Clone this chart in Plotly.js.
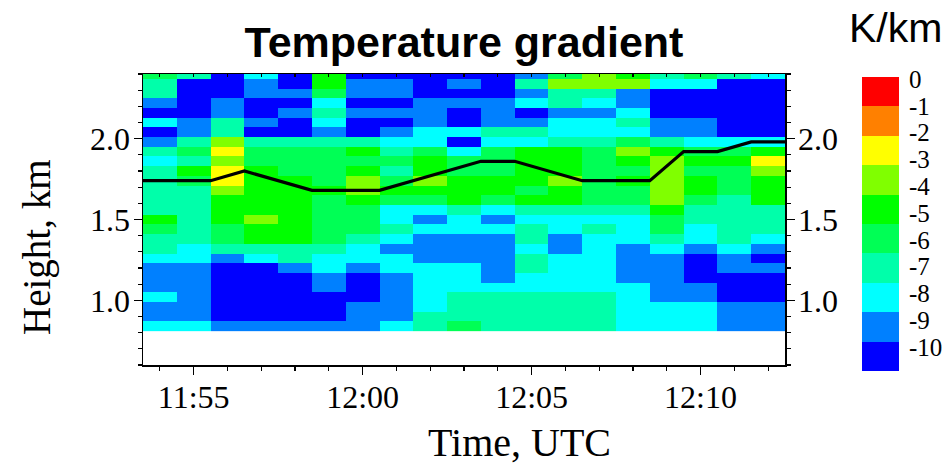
<!DOCTYPE html>
<html><head><meta charset="utf-8">
<script src="https://cdn.plot.ly/plotly-3.0.1.min.js"></script>
<style>html,body{margin:0;padding:0;background:#fff}#c{width:948px;height:467px}</style>
</head><body><div id="c"></div>
<script>
// time in minutes after 11:00 UTC
const minutes = [54,55,56,57,58,59,60,61,62,63,64,65,66,67,68,69,70,71,72];
const heights = [0.84,0.90,0.96,1.02,1.08,1.14,1.20,1.26,1.32,1.38,1.44,1.50,1.56,1.62,1.68,1.74,1.80,1.86,1.92,1.98,2.04,2.10,2.16,2.22,2.28,2.34,2.40];
// gradient bins, K/km (bin mid values)
const B=-9.5,A=-8.5,C=-7.5,M=-6.5,S=-5.5,G=-4.5,L=-3.5,Y=-2.5;
const row00=[C,C,A,A,A,A,A,C,M,S,M,M,M,M,C,C,C,A,A];
const row01=[A,A,B,B,B,B,A,A,M,M,M,M,M,M,C,C,C,A,A];
const row02=[A,A,B,B,B,B,A,A,C,M,M,M,M,M,C,C,C,A,A];
const row03=[C,A,B,B,B,B,B,A,C,M,M,M,M,M,C,A,A,B,B];
const row04=[A,A,B,B,B,A,B,A,C,C,C,C,C,C,C,A,A,B,B];
const row05=[A,A,B,B,B,A,B,A,C,C,A,C,C,C,A,A,B,B,B];
const row06=[A,A,B,B,A,C,A,C,C,C,A,M,C,C,A,A,B,A,A];
const row07=[C,C,A,C,M,C,C,C,A,A,A,M,C,C,A,A,B,A,B];
const row08=[M,C,M,M,M,M,C,A,A,A,A,C,A,C,A,C,A,C,A];
const row09=[M,M,S,G,G,S,M,C,A,A,A,M,A,C,C,M,C,M,C];
const row10=[S,M,S,G,G,S,S,M,C,C,C,M,C,M,C,S,C,M,M];
const row11=[G,M,G,L,G,S,S,C,A,C,A,C,C,C,C,S,M,M,M];
const row12=[M,M,G,G,G,S,S,C,C,M,C,M,M,M,M,G,M,M,M];
const row13=[M,M,G,G,G,S,G,S,S,G,S,G,G,S,S,L,S,M,G];
const row14=[M,M,L,G,G,G,L,G,G,G,G,S,G,S,S,L,G,S,G];
const row15=[M,S,Y,G,G,S,L,S,L,G,G,G,L,S,G,L,G,S,G];
const row16=[M,G,Y,G,S,S,G,M,G,S,S,G,G,S,S,L,S,S,L];
const row17=[C,M,L,S,S,S,S,S,G,S,S,G,G,S,G,L,G,G,Y];
const row18=[M,S,Y,S,S,S,G,M,S,C,S,G,G,S,L,G,S,S,G];
const row19=[A,M,L,M,M,M,M,C,C,B,C,C,M,M,S,M,C,C,C];
const row20=[B,A,M,B,B,A,B,A,C,C,M,M,C,C,C,A,A,B,B];
const row21=[C,A,M,A,B,C,B,B,A,B,A,A,C,C,M,A,A,B,B];
const row22=[B,B,A,B,A,M,A,A,A,B,A,B,A,A,C,B,B,B,B];
const row23=[A,B,A,B,B,C,B,B,A,A,A,C,M,C,A,B,B,B,B];
const row24=[M,B,B,A,A,S,A,A,B,B,B,A,M,M,A,B,B,B,B];
const row25=[M,B,B,A,B,G,A,A,B,A,B,M,L,L,L,C,C,B,B];
const row26=[S,M,B,C,B,G,B,B,B,B,B,A,S,L,G,M,S,M,C];
const gradient=[row00,row01,row02,row03,row04,row05,row06,row07,row08,row09,row10,row11,row12,row13,row14,row15,row16,row17,row18,row19,row20,row21,row22,row23,row24,row25,row26];
// black line
const lineTime=[53.5,55.5,56.5,58.5,60.5,63.5,64.5,66.5,68.5,69.5,70.5,71.5,72.5];
const lineHeight=[1.74,1.74,1.80,1.68,1.68,1.86,1.86,1.74,1.74,1.92,1.92,1.98,1.98];
// ticks
const xTickVals=[55,60,65,70];
const xTickText=['11:55','12:00','12:05','12:10'];
const yTickVals=[1.0,1.5,2.0];
const yTickText=['1.0','1.5','2.0'];
// colour bar
const binValues=[-0.5,-1.5,-2.5,-3.5,-4.5,-5.5,-6.5,-7.5,-8.5,-9.5];
const binColors=['#ff0000','#ff8000','#ffff00','#80ff00','#00ff00','#00ff55','#00ffaa','#00ffff','#0080ff','#0000ff'];
const cbLabels=['0','-1','-2','-3','-4','-5','-6','-7','-8','-9','-10'];
const cbLabelPos=[-0.07,-0.98,-1.89,-2.81,-3.72,-4.63,-5.54,-6.45,-7.37,-8.28,-9.19];

const scale=[];
binColors.slice().reverse().forEach((c,i)=>{scale.push([i/10,c]);scale.push([(i+1)/10,c]);});

const serif='"Liberation Serif",serif', sans='"Liberation Sans",sans-serif';
const L0=143,R0=899,T0=74,B0=371;
const W=R0-L0,H=B0-T0;
const mainX=[0,(785-L0)/W], mainY=[(B0-365)/H,1];
const tickFont={family:serif,size:32,color:'#000'};

const traces=[
 {type:'heatmap',x:minutes,y:heights,z:gradient,zmin:-10,zmax:0,colorscale:scale,showscale:false,xaxis:'x',yaxis:'y',hoverinfo:'skip'},
 {type:'scatter',mode:'lines',x:lineTime,y:lineHeight,line:{color:'#000',width:3.2},xaxis:'x2',yaxis:'y2',showlegend:false},
 {type:'heatmap',x:[0],y:binValues,z:binValues.map(v=>[v]),zmin:-10,zmax:0,colorscale:scale,showscale:false,xaxis:'x3',yaxis:'y3',hoverinfo:'skip'}
];
const layout={
 width:948,height:467,margin:{l:L0,r:948-R0,t:T0,b:467-B0,pad:0},
 paper_bgcolor:'#fff',plot_bgcolor:'#fff',showlegend:false,
 title:{text:'Temperature gradient',font:{family:sans,size:43,color:'#000',weight:'bold'},x:464/948,xanchor:'center',y:1-42/467,yanchor:'middle'},
 xaxis:{domain:mainX,range:[53.5,72.5],anchor:'y',side:'bottom',tickmode:'array',tickvals:xTickVals,ticktext:xTickText,ticks:'outside',ticklen:8,tickwidth:1.5,tickcolor:'#000',linecolor:'#000',linewidth:1.5,showline:true,showgrid:false,zeroline:false,tickfont:tickFont,ticklabelstandoff:-5,
  minor:{dtick:1,tick0:0,ticks:'outside',ticklen:4,tickwidth:1.2,tickcolor:'#000',showgrid:false}},
 xaxis2:{domain:mainX,range:[53.5,72.5],anchor:'y2',overlaying:'x',side:'top',dtick:1,tick0:0,ticks:'inside',ticklen:3,tickwidth:1.2,tickcolor:'#000',linecolor:'#000',linewidth:1.5,showline:true,showgrid:false,zeroline:false,showticklabels:false},
 yaxis:{domain:mainY,range:[0.6,2.4],anchor:'x',side:'left',tickmode:'array',tickvals:yTickVals,ticktext:yTickText,ticks:'outside',ticklen:8,tickwidth:1.5,tickcolor:'#000',linecolor:'#000',linewidth:1.5,showline:true,showgrid:false,zeroline:false,tickfont:tickFont,ticklabelstandoff:-3,
  minor:{dtick:0.1,tick0:0,ticks:'outside',ticklen:4,tickwidth:1.2,tickcolor:'#000',showgrid:false}},
 yaxis2:{domain:mainY,range:[0.6,2.4],anchor:'x2',overlaying:'y',side:'right',tickmode:'array',tickvals:yTickVals,ticktext:yTickText,ticks:'outside',ticklen:8,tickwidth:1.5,tickcolor:'#000',linecolor:'#000',linewidth:1.5,showline:true,showgrid:false,zeroline:false,tickfont:tickFont,ticklabelstandoff:-3,
  minor:{dtick:0.1,tick0:0,ticks:'outside',ticklen:4,tickwidth:1.2,tickcolor:'#000',showgrid:false}},
 xaxis3:{domain:[(862-L0)/W,1],anchor:'y3',visible:false,range:[-0.5,0.5],fixedrange:true},
 yaxis3:{domain:[0,(B0-77)/H],anchor:'x3',side:'right',range:[-10,0],tickmode:'array',tickvals:cbLabelPos,ticktext:cbLabels,ticks:'outside',ticklen:4,tickcolor:'rgba(0,0,0,0)',showline:false,showgrid:false,zeroline:false,tickfont:{family:serif,size:25,color:'#000'}},
 annotations:[
  {text:'K/km',xref:'paper',yref:'paper',x:(895-L0)/W,y:(B0-28)/H,xanchor:'center',yanchor:'middle',showarrow:false,font:{family:sans,size:41,color:'#000'}},
  {text:'Time, UTC',xref:'paper',yref:'paper',x:(519.5-L0)/W,y:(B0-442)/H,xanchor:'center',yanchor:'middle',showarrow:false,font:{family:serif,size:40,color:'#000'}},
  {text:'Height, km',xref:'paper',yref:'paper',x:(37-L0)/W,y:(B0-248)/H,xanchor:'center',yanchor:'middle',textangle:-90,showarrow:false,font:{family:serif,size:39,color:'#000'}}
 ]
};
Plotly.newPlot('c',traces,layout,{displayModeBar:false,staticPlot:true});
</script></body></html>
